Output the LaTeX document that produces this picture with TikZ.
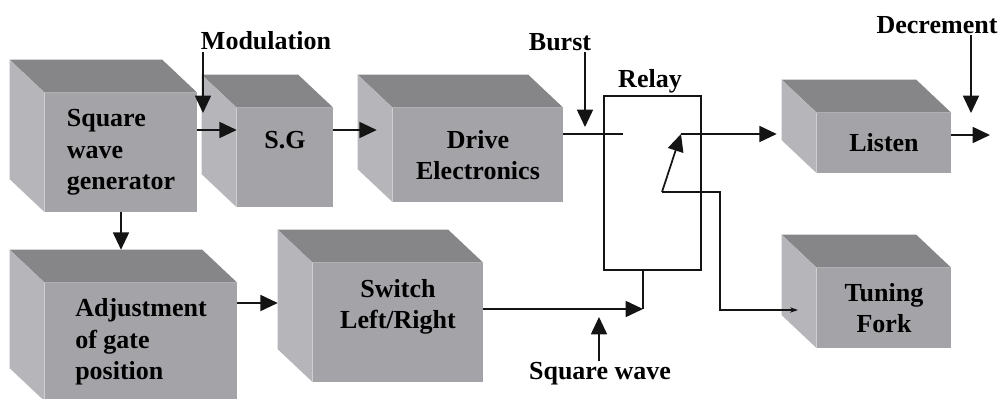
\documentclass[tikz,border=0pt]{standalone}
\usepackage{fontspec}
\setmainfont{Liberation Serif}
\usepackage{tikz}
\usetikzlibrary{positioning, arrows.meta, calc}
\definecolor{frontgray}{RGB}{164,164,168}
\definecolor{topgray}{RGB}{134,134,137}
\definecolor{sidegray}{RGB}{182,182,186}
\definecolor{wireline}{RGB}{20,20,20}
\newcommand{\dpx}{35}
\newcommand{\dpy}{33}
\tikzset{
  blockbox/.style={
    rectangle, fill=frontgray, inner sep=0pt,
    align=center, font=\bfseries\fontsize{19.5}{23.5}\selectfont
  },
  relaybox/.style={
    rectangle, draw=wireline, line width=1.3pt,
    fill=white, inner sep=0pt
  },
  sigtext/.style={font=\bfseries\fontsize{19.5}{23.5}\selectfont, inner sep=1pt},
  sigarrow/.style={
    -{Triangle[length=13pt,width=12pt]}, draw=wireline, line width=1.3pt
  },
  sigline/.style={draw=wireline, line width=1.3pt},
  smallarrow/.style={
    -{Stealth[length=6pt,width=4pt]}, draw=wireline, line width=1pt
  }
}

\begin{document}
\begin{tikzpicture}[x=0.75pt, y=-0.75pt]
  \useasboundingbox (0,0) rectangle (1002,399);

  % front faces of the blocks
  \node[blockbox, align=left, minimum width=114pt, minimum height=89.25pt] (gen) at (121,152.5) {Square\\wave\\generator};
  \node[blockbox, minimum width=72pt, minimum height=74.25pt,
        label={[sigtext, yshift=13pt]center:S.G}] (sg) at (285,157.5) {};
  \node[blockbox, minimum width=127.5pt, minimum height=70.5pt] (drive) at (478,155) {Drive\\Electronics};
  \node[blockbox, align=left, minimum width=144pt, minimum height=88.5pt] (adjust) at (141,342) {Adjustment\\of gate\\position};
  \node[blockbox, minimum width=127.5pt, minimum height=89.25pt,
        label={[sigtext, align=center, yshift=11.5pt]center:Switch\\Left/Right}] (switch) at (398,322.5) {};
  \node[blockbox, minimum width=100.5pt, minimum height=45pt] (listen) at (884,143) {Listen};
  \node[blockbox, minimum width=100.5pt, minimum height=60pt] (fork) at (884,308) {Tuning\\Fork};
  \node[relaybox, minimum width=72.75pt, minimum height=130.5pt] (relay) at (652.5,183) {};

  % top and left faces
  \foreach \b in {gen,sg,drive,adjust,switch,listen,fork}{
    \fill[topgray] (\b.north west) -- ++(-\dpx,-\dpy) -- ($(\b.north east)+(-\dpx,-\dpy)$) -- (\b.north east) -- cycle;
    \fill[sidegray] (\b.north west) -- ++(-\dpx,-\dpy) -- ($(\b.south west)+(-\dpx,-\dpy)$) -- (\b.south west) -- cycle;
  }

  % labels
  \node[sigtext] (modl) at (266,41) {Modulation};
  \node[sigtext] (burst) at (560,42) {Burst};
  \node[sigtext] (relayl) at (650,81) {Relay};
  \node[sigtext] (decl) at (937,25) {Decrement};
  \node[sigtext] (sqw) at (600,374) {Square wave};

  \coordinate (modtip) at (203,113);
  \coordinate (bursttip) at (585,127);
  \coordinate (dectip) at (971,113);
  \coordinate (sqwtip) at (599,317);
  \coordinate (cin) at (623,134);
  \coordinate (cout) at (681,134);
  \coordinate (arm) at (662,192);
  \coordinate (swin) at (643,309);
  \coordinate (forkin) at (798,310);
  \coordinate (outend) at (990,135);

  \draw[sigarrow] (modtip |- modl.south) -- (modtip);
  \draw[sigarrow] (bursttip |- burst.south) -- (bursttip);
  \draw[sigarrow] (dectip |- decl.south) -- (dectip);
  \draw[sigarrow] (sqwtip |- sqw.north) -- (sqwtip);

  \draw[sigarrow] (gen.east |- 0,130) -- (sg.west |- 0,130);
  \draw[sigarrow] (sg.east |- 0,130) -- ($(drive.west |- 0,130)+(-16,0)$);
  \draw[sigline] (drive.east |- cin) -- (cin);
  \draw[sigarrow] (arm) -- (cout);
  \draw[sigarrow] (cout) -- ($(listen.west |- cout)+(-40,0)$);
  \draw[sigarrow] (listen.east |- outend) -- (outend);
  \draw[smallarrow] (arm) -- ++(58,0) |- (forkin);
  \draw[sigarrow] (gen.south) -- ($(gen.south |- adjust.north)+(0,-\dpy)$);
  \draw[sigarrow] (adjust.east |- 0,303) -- ($(switch.west |- 0,303)+(-\dpx,0)$);
  \draw[sigarrow] (switch.east |- swin) -- (swin);
  \draw[sigline] (swin) -- (swin |- relay.south);
\end{tikzpicture}
\end{document}
